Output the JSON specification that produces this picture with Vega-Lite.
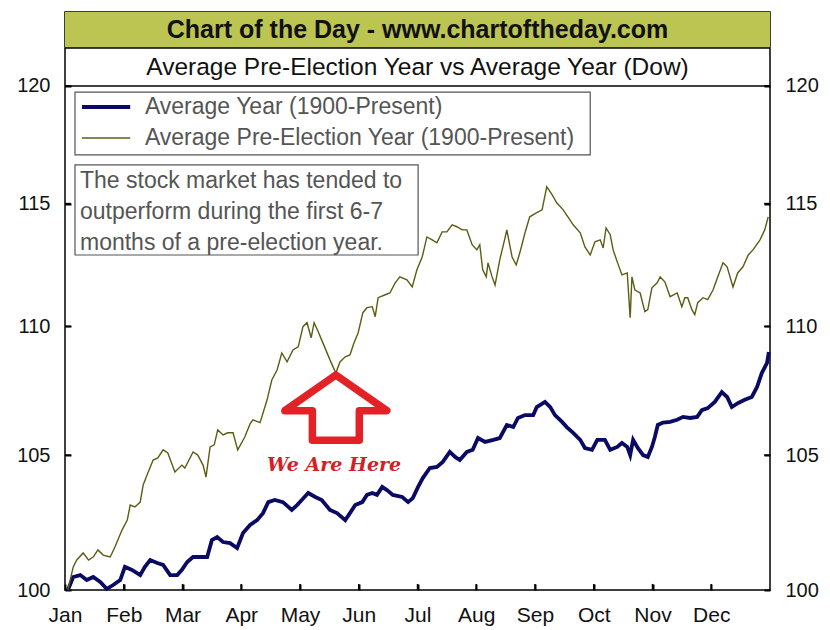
{
  "$schema": "https://vega.github.io/schema/vega-lite/v6.json",
  "width": 705,
  "height": 578,
  "autosize": {"type": "none"},
  "padding": {"left": 65, "top": 12, "right": 60, "bottom": 40},
  "background": "white",
  "config": {
    "view": {"stroke": "#000000", "strokeWidth": 1.5},
    "font": "Liberation Sans",
    "axis": {"ticks": true, "labels": true, "zindex": 1, "title": null, "tickOpacity": 1}
  },
  "datasets": {
    "monthTicks": [{"t": 1}, {"t": 2}, {"t": 3}, {"t": 4}, {"t": 5}, {"t": 6}, {"t": 7}, {"t": 8}, {"t": 9}, {"t": 10}, {"t": 11}],
    "levelTicks": [{"p": 105}, {"p": 110}, {"p": 115}, {"p": 120}],
    "avg": [
      {"m": 0.05, "v": 100.00}, {"m": 0.14, "v": 100.47}, {"m": 0.26, "v": 100.54}, {"m": 0.37, "v": 100.36},
      {"m": 0.48, "v": 100.47}, {"m": 0.60, "v": 100.29}, {"m": 0.71, "v": 100.04}, {"m": 0.82, "v": 100.18},
      {"m": 0.94, "v": 100.36}, {"m": 1.02, "v": 100.84}, {"m": 1.14, "v": 100.73}, {"m": 1.28, "v": 100.54},
      {"m": 1.36, "v": 100.84}, {"m": 1.45, "v": 101.09}, {"m": 1.57, "v": 100.98}, {"m": 1.67, "v": 100.91},
      {"m": 1.79, "v": 100.54}, {"m": 1.91, "v": 100.54}, {"m": 1.99, "v": 100.73}, {"m": 2.08, "v": 101.02},
      {"m": 2.18, "v": 101.20}, {"m": 2.30, "v": 101.20}, {"m": 2.42, "v": 101.20}, {"m": 2.50, "v": 101.82},
      {"m": 2.59, "v": 101.93}, {"m": 2.69, "v": 101.75}, {"m": 2.81, "v": 101.71}, {"m": 2.93, "v": 101.53},
      {"m": 3.03, "v": 102.08}, {"m": 3.15, "v": 102.38}, {"m": 3.27, "v": 102.56}, {"m": 3.37, "v": 102.82},
      {"m": 3.46, "v": 103.23}, {"m": 3.57, "v": 103.31}, {"m": 3.71, "v": 103.23}, {"m": 3.86, "v": 102.94},
      {"m": 3.95, "v": 103.12}, {"m": 4.03, "v": 103.31}, {"m": 4.14, "v": 103.57}, {"m": 4.26, "v": 103.42},
      {"m": 4.37, "v": 103.31}, {"m": 4.51, "v": 102.94}, {"m": 4.63, "v": 102.82}, {"m": 4.77, "v": 102.56},
      {"m": 4.85, "v": 102.82}, {"m": 4.94, "v": 103.12}, {"m": 5.06, "v": 103.23}, {"m": 5.14, "v": 103.50},
      {"m": 5.23, "v": 103.57}, {"m": 5.31, "v": 103.50}, {"m": 5.40, "v": 103.80}, {"m": 5.48, "v": 103.68},
      {"m": 5.58, "v": 103.50}, {"m": 5.74, "v": 103.42}, {"m": 5.84, "v": 103.23}, {"m": 5.92, "v": 103.38},
      {"m": 6.01, "v": 103.80}, {"m": 6.09, "v": 104.13}, {"m": 6.21, "v": 104.51}, {"m": 6.33, "v": 104.55},
      {"m": 6.43, "v": 104.74}, {"m": 6.55, "v": 105.12}, {"m": 6.64, "v": 104.93}, {"m": 6.72, "v": 104.81},
      {"m": 6.84, "v": 105.12}, {"m": 6.94, "v": 105.20}, {"m": 7.03, "v": 105.65}, {"m": 7.15, "v": 105.50},
      {"m": 7.29, "v": 105.58}, {"m": 7.40, "v": 105.65}, {"m": 7.52, "v": 106.15}, {"m": 7.63, "v": 106.07},
      {"m": 7.71, "v": 106.42}, {"m": 7.83, "v": 106.53}, {"m": 7.97, "v": 106.53}, {"m": 8.03, "v": 106.84},
      {"m": 8.17, "v": 107.04}, {"m": 8.26, "v": 106.84}, {"m": 8.34, "v": 106.53}, {"m": 8.46, "v": 106.27},
      {"m": 8.54, "v": 106.07}, {"m": 8.65, "v": 105.85}, {"m": 8.77, "v": 105.58}, {"m": 8.85, "v": 105.27},
      {"m": 8.97, "v": 105.20}, {"m": 9.06, "v": 105.58}, {"m": 9.19, "v": 105.58}, {"m": 9.28, "v": 105.20},
      {"m": 9.40, "v": 105.31}, {"m": 9.48, "v": 105.46}, {"m": 9.57, "v": 105.31}, {"m": 9.62, "v": 105.00},
      {"m": 9.67, "v": 105.58}, {"m": 9.75, "v": 105.27}, {"m": 9.84, "v": 105.00}, {"m": 9.92, "v": 104.93},
      {"m": 9.99, "v": 105.31}, {"m": 10.04, "v": 105.69}, {"m": 10.09, "v": 106.15}, {"m": 10.18, "v": 106.24},
      {"m": 10.30, "v": 106.27}, {"m": 10.42, "v": 106.35}, {"m": 10.52, "v": 106.46}, {"m": 10.64, "v": 106.42},
      {"m": 10.76, "v": 106.46}, {"m": 10.84, "v": 106.72}, {"m": 10.94, "v": 106.80}, {"m": 11.06, "v": 107.04},
      {"m": 11.18, "v": 107.42}, {"m": 11.27, "v": 107.23}, {"m": 11.35, "v": 106.84}, {"m": 11.46, "v": 107.00},
      {"m": 11.57, "v": 107.12}, {"m": 11.69, "v": 107.23}, {"m": 11.78, "v": 107.62}, {"m": 11.86, "v": 108.16},
      {"m": 11.95, "v": 108.56}, {"m": 11.98, "v": 108.99}
    ],
    "pre": [
      {"m": 0.05, "v": 100.00}, {"m": 0.14, "v": 100.84}, {"m": 0.20, "v": 101.09}, {"m": 0.31, "v": 101.35},
      {"m": 0.40, "v": 101.09}, {"m": 0.48, "v": 101.20}, {"m": 0.56, "v": 101.46}, {"m": 0.65, "v": 101.27},
      {"m": 0.77, "v": 101.20}, {"m": 0.85, "v": 101.57}, {"m": 0.97, "v": 102.19}, {"m": 1.06, "v": 102.56},
      {"m": 1.11, "v": 103.12}, {"m": 1.19, "v": 103.05}, {"m": 1.28, "v": 103.23}, {"m": 1.33, "v": 103.87},
      {"m": 1.41, "v": 104.32}, {"m": 1.50, "v": 104.81}, {"m": 1.58, "v": 104.89}, {"m": 1.67, "v": 105.20},
      {"m": 1.75, "v": 105.08}, {"m": 1.87, "v": 104.36}, {"m": 1.99, "v": 104.62}, {"m": 2.04, "v": 104.51},
      {"m": 2.18, "v": 105.12}, {"m": 2.26, "v": 105.00}, {"m": 2.35, "v": 104.62}, {"m": 2.40, "v": 104.17},
      {"m": 2.47, "v": 105.31}, {"m": 2.54, "v": 105.39}, {"m": 2.60, "v": 105.96}, {"m": 2.69, "v": 105.77},
      {"m": 2.77, "v": 105.85}, {"m": 2.86, "v": 105.85}, {"m": 2.94, "v": 105.20}, {"m": 3.06, "v": 105.69},
      {"m": 3.15, "v": 106.19}, {"m": 3.20, "v": 106.35}, {"m": 3.32, "v": 106.24}, {"m": 3.44, "v": 107.12},
      {"m": 3.52, "v": 107.89}, {"m": 3.61, "v": 108.28}, {"m": 3.69, "v": 108.95}, {"m": 3.78, "v": 108.60},
      {"m": 3.88, "v": 109.07}, {"m": 3.97, "v": 109.19}, {"m": 4.05, "v": 109.99}, {"m": 4.12, "v": 110.15},
      {"m": 4.19, "v": 109.55}, {"m": 4.24, "v": 110.15}, {"m": 4.31, "v": 109.79}, {"m": 4.39, "v": 109.35},
      {"m": 4.51, "v": 108.68}, {"m": 4.61, "v": 108.16}, {"m": 4.68, "v": 108.60}, {"m": 4.77, "v": 108.80},
      {"m": 4.85, "v": 108.87}, {"m": 4.92, "v": 109.35}, {"m": 4.99, "v": 109.75}, {"m": 5.07, "v": 110.55},
      {"m": 5.14, "v": 110.75}, {"m": 5.23, "v": 110.79}, {"m": 5.28, "v": 110.39}, {"m": 5.33, "v": 111.15},
      {"m": 5.45, "v": 111.27}, {"m": 5.53, "v": 111.34}, {"m": 5.62, "v": 111.75}, {"m": 5.70, "v": 111.99},
      {"m": 5.82, "v": 111.87}, {"m": 5.91, "v": 111.58}, {"m": 5.99, "v": 112.28}, {"m": 6.08, "v": 112.80},
      {"m": 6.16, "v": 113.62}, {"m": 6.25, "v": 113.50}, {"m": 6.33, "v": 113.38}, {"m": 6.42, "v": 113.83},
      {"m": 6.50, "v": 113.83}, {"m": 6.59, "v": 114.12}, {"m": 6.67, "v": 114.04}, {"m": 6.76, "v": 113.91},
      {"m": 6.84, "v": 113.91}, {"m": 6.93, "v": 113.30}, {"m": 7.01, "v": 113.09}, {"m": 7.06, "v": 113.30},
      {"m": 7.11, "v": 112.28}, {"m": 7.17, "v": 111.99}, {"m": 7.20, "v": 112.56}, {"m": 7.27, "v": 111.99},
      {"m": 7.32, "v": 111.66}, {"m": 7.40, "v": 112.68}, {"m": 7.49, "v": 113.58}, {"m": 7.52, "v": 113.91},
      {"m": 7.61, "v": 112.80}, {"m": 7.68, "v": 112.48}, {"m": 7.74, "v": 112.96}, {"m": 7.83, "v": 113.79},
      {"m": 7.91, "v": 114.45}, {"m": 8.03, "v": 114.62}, {"m": 8.12, "v": 114.74}, {"m": 8.20, "v": 115.70},
      {"m": 8.29, "v": 115.37}, {"m": 8.37, "v": 115.03}, {"m": 8.48, "v": 114.74}, {"m": 8.56, "v": 114.45},
      {"m": 8.65, "v": 114.12}, {"m": 8.77, "v": 113.79}, {"m": 8.85, "v": 113.21}, {"m": 8.94, "v": 112.88},
      {"m": 9.02, "v": 113.42}, {"m": 9.11, "v": 113.50}, {"m": 9.16, "v": 113.17}, {"m": 9.21, "v": 113.99},
      {"m": 9.28, "v": 113.71}, {"m": 9.33, "v": 113.09}, {"m": 9.40, "v": 112.60}, {"m": 9.48, "v": 112.07},
      {"m": 9.57, "v": 112.15}, {"m": 9.62, "v": 110.35}, {"m": 9.65, "v": 111.99}, {"m": 9.70, "v": 111.46},
      {"m": 9.79, "v": 111.34}, {"m": 9.87, "v": 110.59}, {"m": 9.92, "v": 110.67}, {"m": 9.99, "v": 111.55},
      {"m": 10.08, "v": 111.75}, {"m": 10.13, "v": 111.99}, {"m": 10.21, "v": 111.79}, {"m": 10.30, "v": 111.19},
      {"m": 10.42, "v": 111.34}, {"m": 10.50, "v": 110.79}, {"m": 10.55, "v": 111.15}, {"m": 10.60, "v": 111.15},
      {"m": 10.67, "v": 110.67}, {"m": 10.72, "v": 110.47}, {"m": 10.77, "v": 110.95}, {"m": 10.86, "v": 111.15},
      {"m": 10.94, "v": 111.07}, {"m": 11.03, "v": 111.46}, {"m": 11.11, "v": 111.99}, {"m": 11.20, "v": 112.56},
      {"m": 11.27, "v": 112.40}, {"m": 11.37, "v": 111.58}, {"m": 11.45, "v": 112.15}, {"m": 11.54, "v": 112.40},
      {"m": 11.63, "v": 112.88}, {"m": 11.71, "v": 113.09}, {"m": 11.83, "v": 113.50}, {"m": 11.91, "v": 113.91},
      {"m": 11.97, "v": 114.45}
    ]
  },
  "layer": [
    {
      "data": {"name": "avg"},
      "mark": {"type": "line", "color": "#0a0a64", "strokeWidth": 3.8},
      "encoding": {
        "x": {"field": "m", "type": "quantitative", "title": null, "scale": {"type": "linear", "domain": [0, 12], "nice": false, "zero": false},
          "axis": {"orient": "bottom", "values": [0, 1, 2, 3, 4, 5, 6, 7, 8, 9, 10, 11], "title": null, "grid": false, "domain": false, "ticks": true, "offset": -6, "tickSize": 6, "tickWidth": 2, "tickColor": "#000000", "tickOpacity": 1, "labelPadding": 14, "labelFontSize": 21, "labelFont": "Liberation Sans", "labelColor": "#111111", "labelFlush": false, "labelOverlap": false,
            "labelExpr": "datum.value == 0 ? 'Jan' : datum.value == 1 ? 'Feb' : datum.value == 2 ? 'Mar' : datum.value == 3 ? 'Apr' : datum.value == 4 ? 'May' : datum.value == 5 ? 'Jun' : datum.value == 6 ? 'Jul' : datum.value == 7 ? 'Aug' : datum.value == 8 ? 'Sep' : datum.value == 9 ? 'Oct' : datum.value == 10 ? 'Nov' : 'Dec'"}},
        "y": {"field": "v", "type": "quantitative", "scale": {"type": "log", "domain": [100, 123.25], "nice": false},
          "axis": {"orient": "left", "values": [100, 105, 110, 115, 120], "title": null, "grid": false, "domain": false, "ticks": true, "offset": -6, "tickSize": 6, "tickWidth": 2, "tickColor": "#000000", "tickOpacity": 1, "labelPadding": 15, "labelFontSize": 20, "labelFont": "Liberation Sans", "labelColor": "#111111", "format": "d"}}
      }
    },
    {
      "data": {"name": "pre"},
      "mark": {"type": "line", "color": "#5c5c14", "strokeWidth": 1.4},
      "encoding": {
        "x": {"field": "m", "type": "quantitative", "title": null, "scale": {"type": "linear", "domain": [0, 12], "nice": false, "zero": false}},
        "y": {"field": "v", "type": "quantitative", "scale": {"type": "log", "domain": [100, 123.25], "nice": false},
          "axis": {"orient": "right", "values": [100, 105, 110, 115, 120], "title": null, "grid": false, "domain": false, "ticks": true, "offset": -6, "tickSize": 6, "tickWidth": 2, "tickColor": "#000000", "tickOpacity": 1, "labelPadding": 15, "labelFontSize": 20, "labelFont": "Liberation Sans", "labelColor": "#111111", "format": "d"}}
      }
    },
    {
      "data": {"name": "monthTicks"},
      "mark": {"type": "rule", "color": "#000000", "strokeWidth": 1.5},
      "encoding": {
        "x": {"field": "t", "type": "quantitative", "title": null, "scale": {"type": "linear", "domain": [0, 12], "nice": false, "zero": false}},
        "y": {"datum": 100, "type": "quantitative", "scale": {"type": "log", "domain": [100, 123.25], "nice": false}, "axis": null},
        "y2": {"datum": 100.22}
      }
    },
    {
      "data": {"name": "levelTicks"},
      "mark": {"type": "rule", "color": "#000000", "strokeWidth": 1.5},
      "encoding": {
        "x": {"datum": 0, "type": "quantitative", "title": null, "scale": {"type": "linear", "domain": [0, 12], "nice": false, "zero": false}},
        "x2": {"datum": 0.1},
        "y": {"field": "p", "type": "quantitative", "scale": {"type": "log", "domain": [100, 123.25], "nice": false}, "axis": null}
      }
    },
    {
      "data": {"name": "levelTicks"},
      "mark": {"type": "rule", "color": "#000000", "strokeWidth": 1.5},
      "encoding": {
        "x": {"datum": 11.9, "type": "quantitative", "title": null, "scale": {"type": "linear", "domain": [0, 12], "nice": false, "zero": false}},
        "x2": {"datum": 12},
        "y": {"field": "p", "type": "quantitative", "scale": {"type": "log", "domain": [100, 123.25], "nice": false}, "axis": null}
      }
    },
    {
      "data": {"values": [{}]},
      "mark": {"type": "rect", "fill": "#bcc452"},
      "encoding": {
        "x": {"datum": 0, "type": "quantitative", "title": null, "scale": {"type": "linear", "domain": [0, 12], "nice": false, "zero": false}},
        "x2": {"datum": 12},
        "y": {"datum": 121.66, "type": "quantitative", "scale": {"type": "log", "domain": [100, 123.25], "nice": false}, "axis": null},
        "y2": {"datum": 123.25}
      }
    },
    {
      "data": {"values": [{}]},
      "mark": {"type": "rule", "color": "#000000", "strokeWidth": 1.5},
      "encoding": {
        "x": {"datum": 0, "type": "quantitative", "title": null, "scale": {"type": "linear", "domain": [0, 12], "nice": false, "zero": false}},
        "x2": {"datum": 12},
        "y": {"datum": 121.66, "type": "quantitative", "scale": {"type": "log", "domain": [100, 123.25], "nice": false}, "axis": null}
      }
    },
    {
      "data": {"values": [{}]},
      "mark": {"type": "rule", "color": "#000000", "strokeWidth": 1.5},
      "encoding": {
        "x": {"datum": 0, "type": "quantitative", "title": null, "scale": {"type": "linear", "domain": [0, 12], "nice": false, "zero": false}},
        "x2": {"datum": 12},
        "y": {"datum": 120, "type": "quantitative", "scale": {"type": "log", "domain": [100, 123.25], "nice": false}, "axis": null}
      }
    },
    {
      "data": {"values": [{}]},
      "mark": {"type": "text", "font": "Liberation Sans", "fontSize": 25, "fontWeight": "bold", "color": "#111111", "align": "center", "baseline": "middle"},
      "encoding": {
        "x": {"datum": 6, "type": "quantitative", "title": null, "scale": {"type": "linear", "domain": [0, 12], "nice": false, "zero": false}},
        "y": {"datum": 122.45, "type": "quantitative", "scale": {"type": "log", "domain": [100, 123.25], "nice": false}, "axis": null},
        "text": {"value": "Chart of the Day - www.chartoftheday.com"}
      }
    },
    {
      "data": {"values": [{}]},
      "mark": {"type": "text", "font": "Liberation Sans", "fontSize": 24.5, "color": "#111111", "align": "center", "baseline": "middle"},
      "encoding": {
        "x": {"datum": 6, "type": "quantitative", "title": null, "scale": {"type": "linear", "domain": [0, 12], "nice": false, "zero": false}},
        "y": {"datum": 120.76, "type": "quantitative", "scale": {"type": "log", "domain": [100, 123.25], "nice": false}, "axis": null},
        "text": {"value": "Average Pre-Election Year vs Average Year (Dow)"}
      }
    },
    {
      "data": {"values": [{}]},
      "mark": {"type": "rect", "fill": "#ffffff", "stroke": "#555555", "strokeWidth": 1.2},
      "encoding": {
        "x": {"datum": 0.17, "type": "quantitative", "title": null, "scale": {"type": "linear", "domain": [0, 12], "nice": false, "zero": false}},
        "x2": {"datum": 8.94},
        "y": {"datum": 117.04, "type": "quantitative", "scale": {"type": "log", "domain": [100, 123.25], "nice": false}, "axis": null},
        "y2": {"datum": 119.73}
      }
    },
    {
      "data": {"values": [{}]},
      "mark": {"type": "rule", "color": "#0a0a64", "strokeWidth": 4},
      "encoding": {
        "x": {"datum": 0.29, "type": "quantitative", "title": null, "scale": {"type": "linear", "domain": [0, 12], "nice": false, "zero": false}},
        "x2": {"datum": 1.11},
        "y": {"datum": 119.09, "type": "quantitative", "scale": {"type": "log", "domain": [100, 123.25], "nice": false}, "axis": null}
      }
    },
    {
      "data": {"values": [{}]},
      "mark": {"type": "rule", "color": "#5c5c14", "strokeWidth": 1.5},
      "encoding": {
        "x": {"datum": 0.29, "type": "quantitative", "title": null, "scale": {"type": "linear", "domain": [0, 12], "nice": false, "zero": false}},
        "x2": {"datum": 1.11},
        "y": {"datum": 117.76, "type": "quantitative", "scale": {"type": "log", "domain": [100, 123.25], "nice": false}, "axis": null}
      }
    },
    {
      "data": {"values": [{}]},
      "mark": {"type": "text", "font": "Liberation Sans", "fontSize": 23, "color": "#555555", "align": "left", "baseline": "middle"},
      "encoding": {
        "x": {"datum": 1.36, "type": "quantitative", "title": null, "scale": {"type": "linear", "domain": [0, 12], "nice": false, "zero": false}},
        "y": {"datum": 119.09, "type": "quantitative", "scale": {"type": "log", "domain": [100, 123.25], "nice": false}, "axis": null},
        "text": {"value": "Average Year (1900-Present)"}
      }
    },
    {
      "data": {"values": [{}]},
      "mark": {"type": "text", "font": "Liberation Sans", "fontSize": 23, "color": "#555555", "align": "left", "baseline": "middle"},
      "encoding": {
        "x": {"datum": 1.36, "type": "quantitative", "title": null, "scale": {"type": "linear", "domain": [0, 12], "nice": false, "zero": false}},
        "y": {"datum": 117.76, "type": "quantitative", "scale": {"type": "log", "domain": [100, 123.25], "nice": false}, "axis": null},
        "text": {"value": "Average Pre-Election Year (1900-Present)"}
      }
    },
    {
      "data": {"values": [{}]},
      "mark": {"type": "rect", "fill": "#ffffff", "stroke": "#555555", "strokeWidth": 1.2},
      "encoding": {
        "x": {"datum": 0.17, "type": "quantitative", "title": null, "scale": {"type": "linear", "domain": [0, 12], "nice": false, "zero": false}},
        "x2": {"datum": 6.01},
        "y": {"datum": 112.88, "type": "quantitative", "scale": {"type": "log", "domain": [100, 123.25], "nice": false}, "axis": null},
        "y2": {"datum": 116.62}
      }
    },
    {
      "data": {"values": [{}]},
      "mark": {"type": "text", "font": "Liberation Sans", "fontSize": 23, "color": "#555555", "align": "left", "baseline": "middle", "lineHeight": 31},
      "encoding": {
        "x": {"datum": 0.255, "type": "quantitative", "title": null, "scale": {"type": "linear", "domain": [0, 12], "nice": false, "zero": false}},
        "y": {"datum": 115.94, "type": "quantitative", "scale": {"type": "log", "domain": [100, 123.25], "nice": false}, "axis": null},
        "text": {"value": ["The stock market has tended to", "outperform during the first 6-7", "months of a pre-election year."]}
      }
    },
    {
      "data": {"values": [{}]},
      "mark": {"type": "point", "shape": "M0,-0.64L1,0.06L0.46,0.06L0.46,0.64L-0.46,0.64L-0.46,0.06L-1,0.06Z", "size": 10400, "fill": "#ffffff", "fillOpacity": 0, "stroke": "#e32228", "strokeWidth": 7.5, "strokeJoin": "round", "opacity": 1},
      "encoding": {
        "x": {"datum": 4.61, "type": "quantitative", "title": null, "scale": {"type": "linear", "domain": [0, 12], "nice": false, "zero": false}},
        "y": {"datum": 106.82, "type": "quantitative", "scale": {"type": "log", "domain": [100, 123.25], "nice": false}, "axis": null}
      }
    },
    {
      "data": {"values": [{}]},
      "mark": {"type": "text", "font": "DejaVu Serif", "fontSize": 19, "fontWeight": "bold", "fontStyle": "italic", "color": "#d42024", "align": "center", "baseline": "middle"},
      "encoding": {
        "x": {"datum": 4.58, "type": "quantitative", "title": null, "scale": {"type": "linear", "domain": [0, 12], "nice": false, "zero": false}},
        "y": {"datum": 104.62, "type": "quantitative", "scale": {"type": "log", "domain": [100, 123.25], "nice": false}, "axis": null},
        "text": {"value": "We Are Here"}
      }
    }
  ],
  "resolve": {"axis": {"y": "independent"}}
}
